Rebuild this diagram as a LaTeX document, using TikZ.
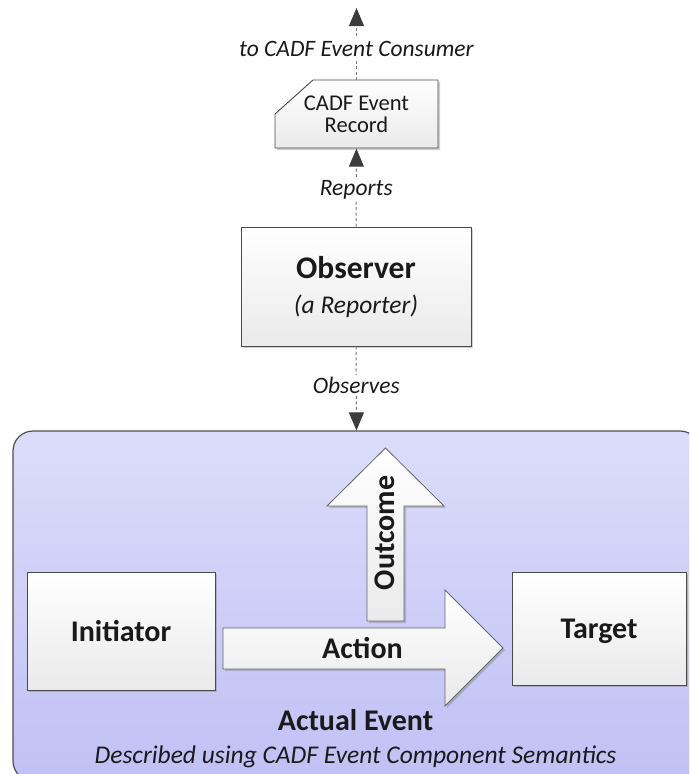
\documentclass[tikz,border=0pt]{standalone}
\usepackage{fontspec}
\setmainfont{Carlito}
\usetikzlibrary{arrows.meta,shadows}

\definecolor{boxline}{HTML}{4A4A4A}
\definecolor{boxbot}{HTML}{EAEAEA}
\definecolor{evtop}{HTML}{DCDCFA}
\definecolor{evbot}{HTML}{C0C0F5}
\definecolor{evline}{HTML}{505050}
\definecolor{dashgray}{HTML}{7A7A7A}
\definecolor{tipgray}{HTML}{3C3C3C}
\definecolor{ink}{HTML}{1A1A1A}

\begin{document}
\begin{tikzpicture}[x=1pt,y=-1pt,
  softshadow/.style={drop shadow={shadow xshift=2pt,shadow yshift=-2pt,opacity=0.3,fill=black!60}},
  box/.style={draw=boxline,line width=0.9pt,top color=white,bottom color=boxbot,softshadow},
  blockarrow/.style={draw=boxline!85,line width=0.8pt,top color=white,bottom color=boxbot,softshadow},
  flow/.style={draw=dashgray,line width=1pt,dash pattern=on 3pt off 2.5pt,
    -{Triangle[width=15pt,length=18pt,color=tipgray]}},
  lbl/.style={fill=white,inner sep=1.5pt,text=ink,font=\itshape\fontsize{23.5}{27}\selectfont},
  boldtext/.style={text=ink,font=\bfseries\fontsize{30}{34}\selectfont},
]
\useasboundingbox (0,0) rectangle (689,774);
\clip (0,0) rectangle (689,774);

% the observed event area
\node[draw=evline,line width=1.2pt,rounded corners=20pt,top color=evtop,bottom color=evbot,
  minimum width=687pt,minimum height=350pt,inner sep=0pt] (event) at (356.5,606) {};

% outcome block arrow
\path[blockarrow] (367,621) -- (367,506) -- (327,506) -- (385.5,448) -- (444,506)
  -- (404,506) -- (404,621) -- cycle;
\node[boldtext,rotate=90] (outcome) at (384.5,533) {Outcome};

% action block arrow
\path[blockarrow] (223,628) -- (445,628) -- (445,590) -- (503,648) -- (445,706)
  -- (445,669) -- (223,669) -- cycle;
\node[boldtext] (action) at (362.5,648) {Action};

% participants
\node[box,boldtext,minimum width=188pt,minimum height=118pt,text depth=0pt] (init) at (121,631) {Initiator};
\node[box,boldtext,minimum width=174pt,minimum height=113pt,text depth=0pt] (target) at (599,628.5) {Target};

% caption of the event area
\node[boldtext,anchor=base] (evtitle) at (355.5,730) {Actual Event};
\node[text=ink,font=\itshape\fontsize{25.5}{29}\selectfont,anchor=base] (evsub) at (355.5,763)
  {Described using CADF Event Component Semantics};

% observer
\node[box,minimum width=230pt,minimum height=119pt,align=center,text=ink,
  font=\fontsize{25.5}{35}\selectfont] (obs) at (356,286.5)
  {{\bfseries\fontsize{31.5}{35}\selectfont Observer}\\{\itshape (a Reporter)}};

% event record (document shape with a cut corner)
\path[box] (275,114) -- (313,80) -- (438,80) -- (438,148) -- (275,148) -- cycle;
\node[minimum width=163pt,minimum height=68pt,align=center,text=ink,
  font=\fontsize{22.5}{22}\selectfont] (record) at (356.5,114.5) {CADF Event\\Record};

\coordinate (consumer) at (356.5,8);

% reporting flow
\draw[flow] (obs.south) -- node[lbl,pos=0.46] {Observes} (event.north);
\draw[flow] (obs.north) -- node[lbl,pos=0.47] {Reports} (record.south);
\draw[flow] (record.north) -- node[lbl,pos=0.44] {to CADF Event Consumer} (consumer);
\end{tikzpicture}
\end{document}
